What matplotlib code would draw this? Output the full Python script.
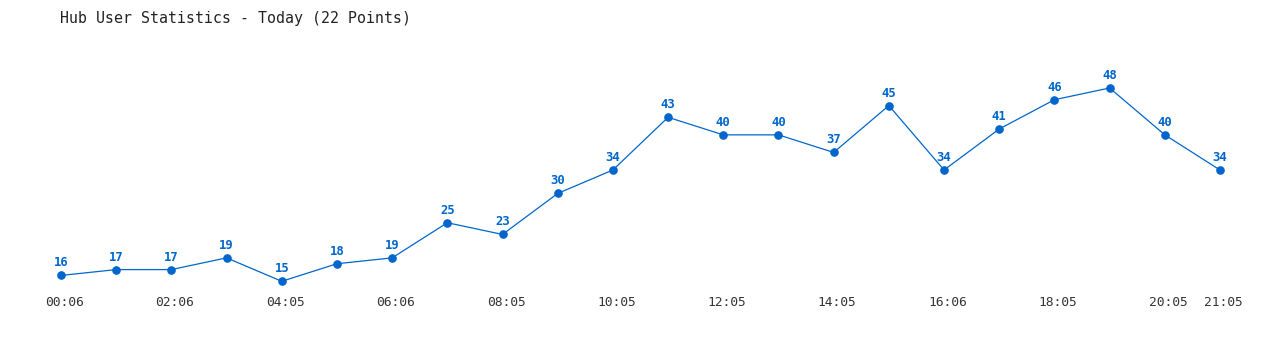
import matplotlib
matplotlib.use("Agg")
from matplotlib import pyplot as plt
from matplotlib.transforms import ScaledTranslation

times = ["00:06", "01:06", "02:06", "03:06", "04:05", "05:05", "06:06", "07:05",
         "08:05", "09:05", "10:05", "11:05", "12:05", "13:05", "14:05", "15:05",
         "16:06", "17:05", "18:05", "19:05", "20:05", "21:05"]
users = [16, 17, 17, 19, 15, 18, 19, 25, 23, 30, 34, 43, 40, 40, 37, 45, 34, 41, 46, 48, 40, 34]
tick_idx = [0, 2, 4, 6, 8, 10, 12, 14, 16, 18, 20, 21]

blue = "#0066cc"
mono = "DejaVu Sans Mono"

fig = plt.figure(figsize=(12.8, 3.5), dpi=100)
# axes fills the width, bottom edge sits just under the lowest point
bottom = (350 - 292) / 350
ax = fig.add_axes([0, bottom, 1, 1 - bottom])

x = list(range(len(users)))
ax.plot(x, users, color=blue, linewidth=0.9, marker="o", ms=5.2, zorder=3)
for i, v in zip(x, users):
    ax.annotate(str(v), (i, v), xytext=(0, 6.5), textcoords="offset points",
                ha="center", va="baseline", fontsize=8.8, fontweight="bold",
                color=blue, family=mono)

step = (1220 - 61) / 21
ax.set_xlim(-61 / step, (1280 - 61) / step)
upp = (281.3 - 88) / 33  # pixels per user
ax.set_ylim(15 - (292 - 281.3) / upp, 15 + 281.3 / upp)

ax.set_xticks(tick_idx)
ax.set_xticklabels([times[i] for i in tick_idx], family=mono, fontsize=9.3, color="#333333")
ax.tick_params(axis="x", length=0, pad=3)
shift = ScaledTranslation(3.5 / 100, 0, fig.dpi_scale_trans)
for lbl in ax.get_xticklabels():
    lbl.set_transform(lbl.get_transform() + shift)
ax.set_yticks([])
for s in ax.spines.values():
    s.set_visible(False)

fig.text(60 / 1280, 1 - 18 / 350, "Hub User Statistics - Today (22 Points)",
         family=mono, fontsize=10.7, color="#222222", ha="left", va="center")

fig.savefig("out.png", dpi=100)
